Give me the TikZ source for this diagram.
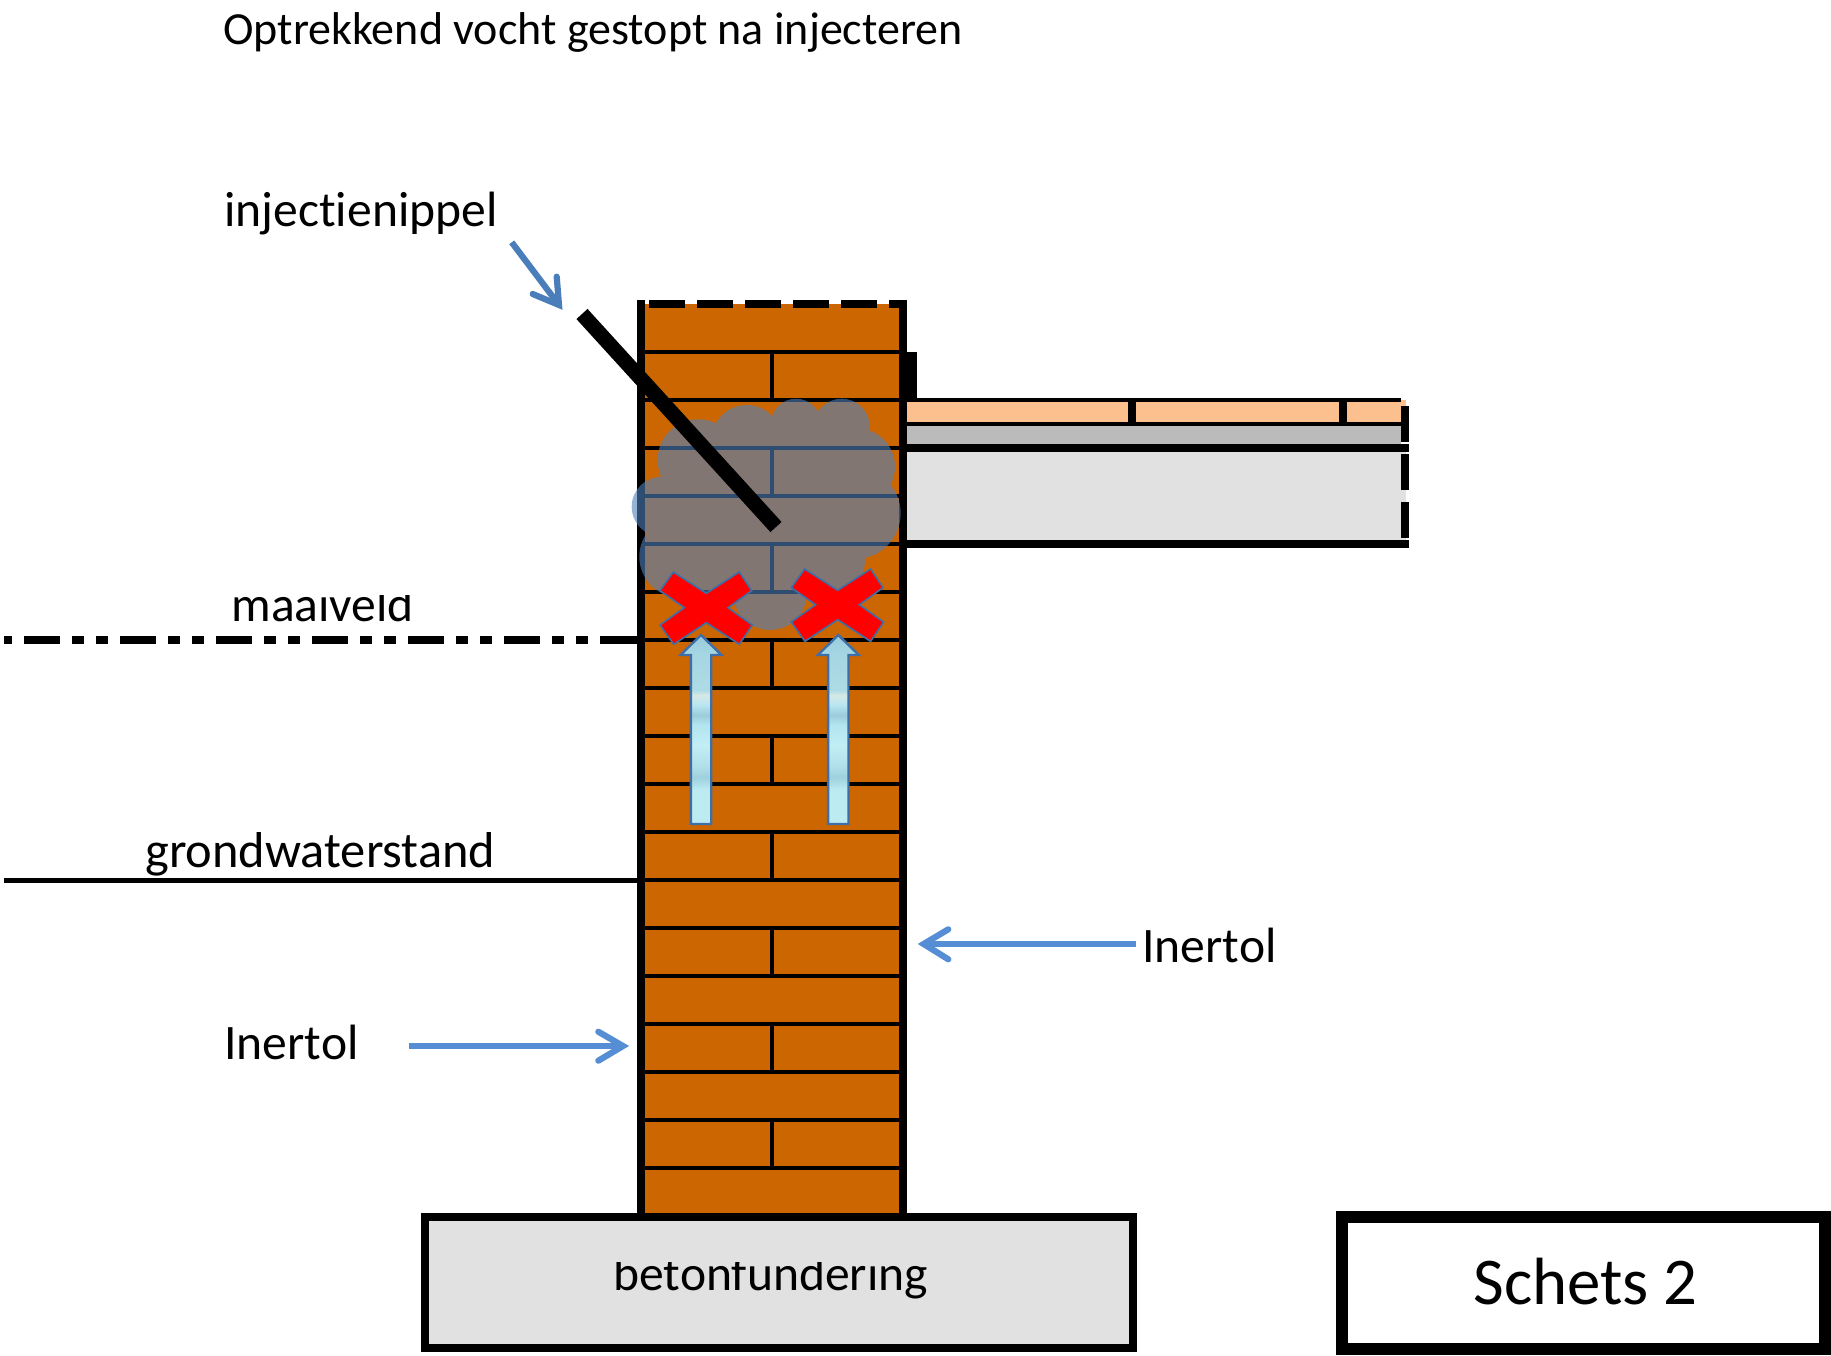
\documentclass[tikz,border=0pt]{standalone}
\usepackage{fontspec}
\setmainfont[Ligatures=CommonOff]{Carlito}
\usetikzlibrary{calc}
\definecolor{brick}{HTML}{CC6600}
\definecolor{peach}{HTML}{FBC08E}
\definecolor{midgrey}{HTML}{BBBBBB}
\definecolor{lightgrey}{HTML}{E1E1E1}
\definecolor{cloudblue}{HTML}{4F81BD}
\definecolor{arrowblue}{HTML}{558ED5}
\definecolor{arrowdark}{HTML}{4A7EBB}
\definecolor{edgeblue}{HTML}{3F6FA8}
\pgfdeclareverticalshading{watershade}{100bp}{
  rgb(0bp)=(0.74,0.92,0.95);
  rgb(25bp)=(0.74,0.92,0.95);
  rgb(34bp)=(0.74,0.92,0.95);
  rgb(37.4bp)=(0.62,0.82,0.87);
  rgb(40.6bp)=(0.70,0.88,0.92);
  rgb(45.9bp)=(0.76,0.93,0.96);
  rgb(51.2bp)=(0.70,0.90,0.94);
  rgb(53.8bp)=(0.61,0.80,0.86);
  rgb(56.5bp)=(0.72,0.90,0.94);
  rgb(59.1bp)=(0.84,0.91,0.90);
  rgb(60.4bp)=(0.68,0.86,0.90);
  rgb(69.7bp)=(0.65,0.84,0.89);
  rgb(75bp)=(0.60,0.80,0.86);
  rgb(100bp)=(0.60,0.80,0.86)}
\tikzset{
  px/.style={line width=#1*0.5pt},
  label text/.style={inner sep=0pt,anchor=base west,font=\fontsize{24.8pt}{28pt}\selectfont},
  brick line/.style={px=4,black},
  thick line/.style={px=8,black},
  cross shape/.style={fill=red,draw=edgeblue,px=1.6,line join=miter},
  water arrow/.style={shading=watershade,draw=edgeblue,px=2.4,line join=miter},
  shaft/.style={line cap=butt},
  barb/.style={line cap=round,line join=miter,miter limit=10}
}
\begin{document}
\begin{tikzpicture}[x=0.5pt,y=-0.5pt]
\useasboundingbox (0,0) rectangle (1831,1355);
\fill[white] (0,0) rectangle (1831,1355);

% floor
\fill[peach] (905,400) rectangle (1406,424);
\fill[midgrey] (905,424) rectangle (1401,448);
\fill[lightgrey] (905,448) rectangle (1406,544);
\draw[brick line] (905,400) -- (1400.7,400);
\draw[brick line] (905,424) -- (1400.7,424);
\draw[thick line] (905,448) -- (1408.6,448);
\draw[thick line] (905,544) -- (1408.6,544);
\draw[px=8.4] (1132.2,400) -- (1132.2,424);
\draw[px=8.4] (1342.7,400) -- (1342.7,424);
\foreach \ya in {406,454,502}
  \draw[thick line] (1404.6,\ya) -- (1404.6,\ya+36);

% wall
\fill[brick] (641,304) rectangle (903,1215);
\foreach \yb in {352,400,...,1168}
  \draw[brick line] (641,\yb) -- (903,\yb);
\foreach \yc in {352,448,...,1120}
  \draw[brick line] (772,\yc) -- (772,\yc+48);
\draw[thick line] (641,300) -- (641,1215);
\draw[thick line] (903,300) -- (903,1215);
\fill[black] (907,352) rectangle (917,400);
\foreach \xa in {649,697,...,841}
  \draw[thick line] (\xa,304) -- (\xa+36,304);
\draw[thick line] (889,304) -- (907,304);

% damp cloud
\fill[cloudblue,fill opacity=0.6,nonzero rule]
  (698.3,460) circle[radius=40.7]
  (746.7,440) circle[radius=35]
  (796,423.7) circle[radius=25]
  (841.7,427) circle[radius=28.3]
  (856.7,466.7) circle[radius=38.3]
  (855,513.3) circle[radius=45.7]
  (661.7,506.7) circle[radius=30]
  (680,556.7) circle[radius=40.7]
  (770,593.3) circle[radius=36.7]
  (826.7,560) circle[radius=38.3]
  (766.7,506.7) circle[radius=83.3]
  (723,563) circle[radius=43];

% injection nipple
\draw[px=15,line cap=butt] (582,314) -- (776,527);

% crosses
\foreach \dx/\dy in {0/0,131.3/-3}{
\begin{scope}[shift={(\dx,\dy)}]
\draw[cross shape] (673.3,572) -- (706.3,593.3) -- (739.3,572) -- (751.7,590.7)
  -- (728,607.7) -- (752.3,625) -- (739.3,644.3) -- (706.3,622.7) -- (673.7,644.3)
  -- (660,625) -- (684.3,607.7) -- (660,590.7) -- cycle;
\end{scope}}

% rising water arrows
\foreach \ax in {701,838.3}{
\draw[water arrow] (\ax,635) -- (\ax+20.5,655) -- (\ax+10.2,655) -- (\ax+10.2,824)
  -- (\ax-10.2,824) -- (\ax-10.2,655) -- (\ax-20.5,655) -- cycle;
}

% ground level lines
\draw[thick line,dash pattern=on 18pt off 6pt on 6pt off 6pt on 6pt off 6pt,dash phase=37.8pt]
  (4,640) -- (637,640);
\fill[black] (630,636) rectangle (640,644);
\draw[px=4.5] (4,880.5) -- (638,880.5);

% foundation
\draw[thick line,fill=lightgrey] (424.7,1216.7) rectangle (1132.7,1348);
\begin{scope}
\clip (600,1262.7) rectangle (940,1320);
\node[label text] (fundering) at (613,1290) {betonfundering};
\end{scope}

% sketch label
\draw[px=12,fill=white] (1342,1216.7) rectangle (1825,1349);
\node[inner sep=0pt,anchor=base west,font=\fontsize{33.4pt}{40pt}\selectfont] (schets) at (1473,1304) {Schets 2};

% texts
\node[label text,font=\fontsize{23pt}{28pt}\selectfont] (title) at (223,44) {Optrekkend vocht gestopt na injecteren};
\node[label text] (nippel) at (224,226) {injectienippel};
\begin{scope}
\clip (200,595) rectangle (450,635);
\node[label text] (maaiveld) at (231,621) {maaiveld};
\end{scope}
\node[label text,font=\fontsize{25.2pt}{28pt}\selectfont] (grondwater) at (145,867) {grondwaterstand};
\node[label text] (inertolL) at (224,1059) {Inertol};
\node[label text] (inertolR) at (1142,962) {Inertol};

% pointer arrows
\coordinate (p1s) at (409.3,1046);
\coordinate (p1t) at (623,1046);
\coordinate (p1a) at (598.3,1031.7);
\coordinate (p1b) at (598.3,1060.7);
\draw[arrowblue,px=6.2,shaft] (p1s) -- (p1t);
\draw[arrowblue,px=6.2,barb] (p1a) -- (p1t) -- (p1b);

\coordinate (p2s) at (1136,944);
\coordinate (p2t) at (923.7,944);
\coordinate (p2a) at (948.3,929.3);
\coordinate (p2b) at (948.3,959.3);
\draw[arrowblue,px=6.2,shaft] (p2s) -- (p2t);
\draw[arrowblue,px=6.2,barb] (p2a) -- (p2t) -- (p2b);

\coordinate (p3s) at (511.7,242.3);
\coordinate (p3t) at (559,305);
\coordinate (p3a) at (532.7,294);
\coordinate (p3b) at (556.7,276.7);
\draw[arrowdark,px=6.2,shaft] (p3s) -- (p3t);
\draw[arrowdark,px=6.2,barb] (p3a) -- (p3t) -- (p3b);
\end{tikzpicture}
\end{document}
